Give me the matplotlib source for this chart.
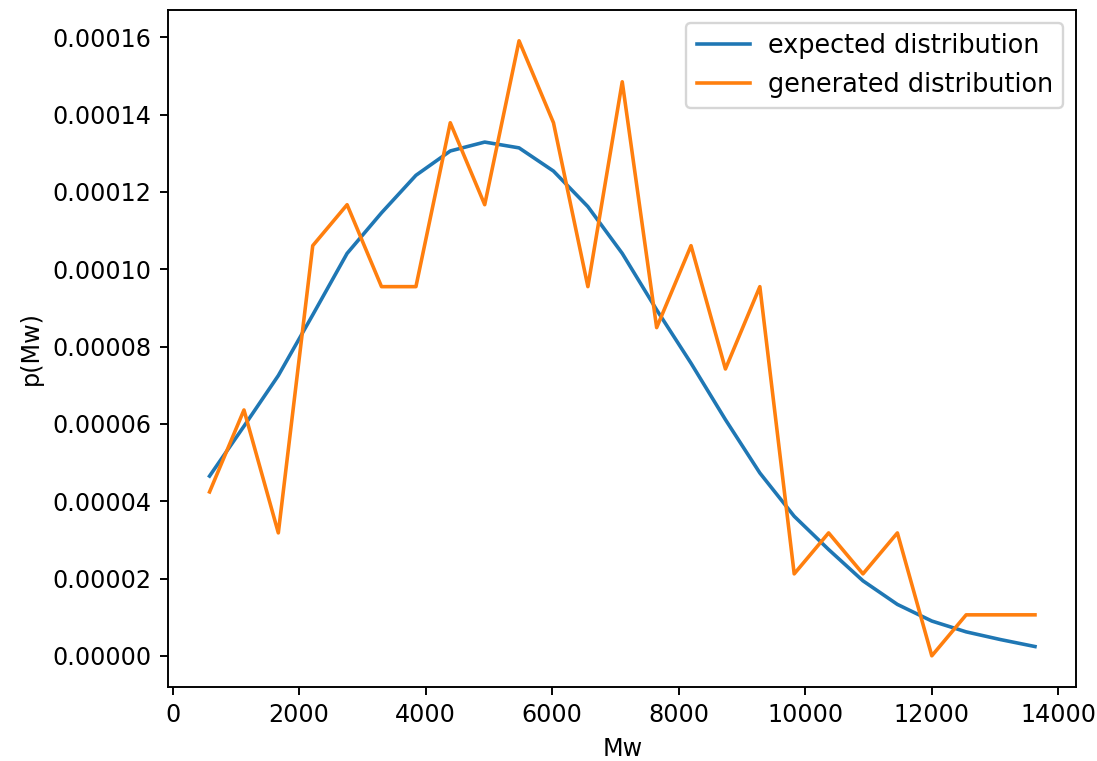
import matplotlib
matplotlib.use("Agg")
import matplotlib.pyplot as plt

# Molecular weight bin centres
mw = [585, 1129, 1672, 2216, 2759, 3303, 3847, 4390, 4934, 5477, 6021, 6565,
      7108, 7652, 8195, 8739, 9283, 9826, 10370, 10913, 11457, 12001, 12544,
      13088, 13632]

# Theoretical probability density at each bin centre
expected = [4.65e-5, 5.94e-5, 7.25e-5, 8.82e-5, 1.041e-4, 1.146e-4, 1.243e-4,
            1.306e-4, 1.329e-4, 1.314e-4, 1.254e-4, 1.162e-4, 1.041e-4,
            8.95e-5, 7.57e-5, 6.11e-5, 4.73e-5, 3.61e-5, 2.75e-5, 1.94e-5,
            1.33e-5, 9.0e-6, 6.2e-6, 4.2e-6, 2.4e-6]

# Histogram density of the sampled chains
generated = [4.24e-5, 6.36e-5, 3.18e-5, 1.061e-4, 1.167e-4, 9.55e-5, 9.55e-5,
             1.379e-4, 1.167e-4, 1.591e-4, 1.379e-4, 9.55e-5, 1.485e-4,
             8.49e-5, 1.061e-4, 7.42e-5, 9.55e-5, 2.12e-5, 3.18e-5, 2.12e-5,
             3.18e-5, 0.0, 1.06e-5, 1.06e-5, 1.06e-5]

dpi = 172
fig = plt.figure(figsize=(1097 / dpi, 761 / dpi), dpi=dpi)
ax = fig.add_axes([0.1534, 0.0978, 0.8277, 0.889])

ax.plot(mw, expected, label="expected distribution")
ax.plot(mw, generated, label="generated distribution")

ax.set_xlabel("Mw")
ax.set_ylabel("p(Mw)")
ax.legend(loc="upper right", fontsize=10.7, handlelength=2.1,
          handletextpad=0.7, labelspacing=0.5)

fig.savefig("out.png", dpi=dpi)
